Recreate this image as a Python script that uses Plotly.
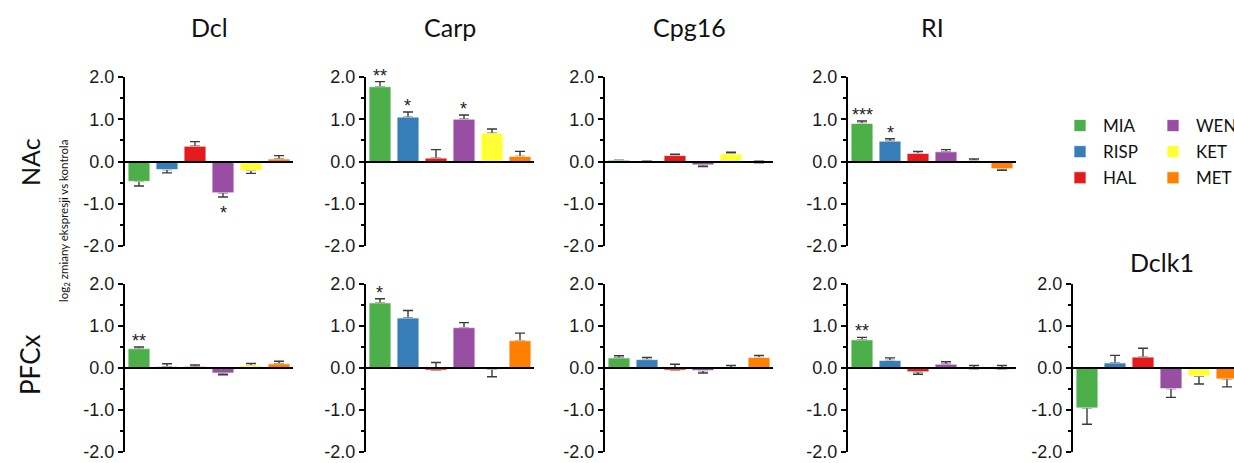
import plotly.graph_objects as go

W, H = 1234, 463

drugs = ["MIA", "RISP", "HAL", "WEN", "KET", "MET"]
colors = ["#4daf4a", "#377eb8", "#e41a1c", "#984ea3", "#ffff33", "#ff7f00"]
tick_vals = [-2, -1, 0, 1, 2]
tick_text = ["-2.0", "-1.0", "0.0", "1.0", "2.0"]
row_labels = ["NAc", "PFCx"]
y_title = "log<sub>2</sub> zmiany ekspresji vs kontrola"

# values (log2 fold change); error: signed, + = drawn upward, - = drawn downward
nac_dcl = [-0.47, -0.19, 0.36, -0.74, -0.21, 0.06]
nac_dcl_err = [-0.11, -0.08, 0.11, -0.10, -0.07, 0.08]
nac_dcl_sig = ["", "", "", "*", "", ""]

nac_carp = [1.77, 1.05, 0.08, 1.00, 0.67, 0.12]
nac_carp_err = [0.12, 0.12, 0.20, 0.10, 0.10, 0.12]
nac_carp_sig = ["**", "*", "", "*", "", ""]

nac_cpg16 = [0.03, -0.02, 0.14, -0.08, 0.18, -0.03]
nac_cpg16_err = [-0.05, 0.03, 0.03, -0.04, 0.04, 0.04]
nac_cpg16_sig = ["", "", "", "", "", ""]

nac_ri = [0.90, 0.48, 0.19, 0.23, 0.02, -0.17]
nac_ri_err = [0.06, 0.06, 0.05, 0.05, 0.04, -0.04]
nac_ri_sig = ["***", "*", "", "", "", ""]

pfc_dcl = [0.46, 0.03, 0.03, -0.12, 0.06, 0.10]
pfc_dcl_err = [0.04, 0.07, 0.04, -0.04, 0.05, 0.06]
pfc_dcl_sig = ["**", "", "", "", "", ""]

pfc_carp = [1.55, 1.19, -0.05, 0.96, -0.03, 0.65]
pfc_carp_err = [0.10, 0.18, 0.18, 0.12, -0.18, 0.18]
pfc_carp_sig = ["*", "", "", "", "", ""]

pfc_cpg16 = [0.24, 0.20, -0.05, -0.06, 0.0, 0.25]
pfc_cpg16_err = [0.05, 0.05, 0.14, -0.06, 0.06, 0.05]
pfc_cpg16_sig = ["", "", "", "", "", ""]

pfc_ri = [0.67, 0.18, -0.09, 0.09, -0.03, -0.03]
pfc_ri_err = [0.06, 0.06, -0.06, 0.06, 0.09, 0.09]
pfc_ri_sig = ["**", "", "", "", "", ""]

pfc_dclk1 = [-0.95, 0.12, 0.26, -0.49, -0.19, -0.26]
pfc_dclk1_err = [-0.39, 0.18, 0.21, -0.21, -0.19, -0.19]
pfc_dclk1_sig = ["", "", "", "", "", ""]

panels = [
    # (row, col, gene title, values, errors, significance)
    (0, 0, "Dcl", nac_dcl, nac_dcl_err, nac_dcl_sig),
    (0, 1, "Carp", nac_carp, nac_carp_err, nac_carp_sig),
    (0, 2, "Cpg16", nac_cpg16, nac_cpg16_err, nac_cpg16_sig),
    (0, 3, "RI", nac_ri, nac_ri_err, nac_ri_sig),
    (1, 0, None, pfc_dcl, pfc_dcl_err, pfc_dcl_sig),
    (1, 1, None, pfc_carp, pfc_carp_err, pfc_carp_sig),
    (1, 2, None, pfc_cpg16, pfc_cpg16_err, pfc_cpg16_sig),
    (1, 3, None, pfc_ri, pfc_ri_err, pfc_ri_sig),
    (1, 4, "Dclk1", pfc_dclk1, pfc_dclk1_err, pfc_dclk1_sig),
]

# layout geometry (pixels)
col_left = [125, 366, 605, 848, 1073]
panel_w = 168
row_top = [77, 284]
row_bot = [246, 452]
slot_px = 28.0

def fx(px):
    return px / W

def fy(py):
    return 1 - py / H

TICKFONT = dict(family="Liberation Sans, Arial", size=18, color="#1a1a1a")
TITLEFONT = dict(family="Lato, Open Sans", size=25, color="#111")

fig = go.Figure()
layout = dict(
    template="none",
    width=W, height=H, margin=dict(l=0, r=0, t=0, b=0, pad=0, autoexpand=False),
    paper_bgcolor="white", plot_bgcolor="white",
    barmode="overlay", showlegend=True,
)
annotations = []

for k, (r, c, gene, vals, errs, sig) in enumerate(panels, start=1):
    xs = "" if k == 1 else str(k)
    x0 = col_left[c]
    x1 = min(x0 + panel_w, W)
    xrange_end = -0.5 + (x1 - x0) / slot_px
    ydom = [fy(row_bot[r]), fy(row_top[r])]
    layout["xaxis" + xs] = dict(
        domain=[fx(x0), fx(x1)], range=[-0.5, xrange_end],
        anchor="free", position=(ydom[0] + ydom[1]) / 2,
        showline=True, linecolor="black", linewidth=2,
        showticklabels=False, ticks="", showgrid=False, zeroline=False,
        fixedrange=True, automargin=False,
    )
    layout["yaxis" + xs] = dict(
        domain=ydom, range=[-2, 2], anchor="x" + xs,
        showline=True, linecolor="black", linewidth=2,
        tickvals=tick_vals, ticktext=tick_text, ticks="outside",
        ticklen=5, tickwidth=2, tickcolor="black", tickfont=TICKFONT,
        minor=dict(dtick=0.5, ticks="outside", ticklen=3, tickwidth=1.5, tickcolor="black"),
        showgrid=False, zeroline=False, automargin=False,
    )
    for i, d in enumerate(drugs):
        e = errs[i]
        show = (k == 1)
        leg = "legend" if i < 3 else "legend2"
        common = dict(
            x=[i], y=[vals[i]], width=0.78, xaxis="x" + xs, yaxis="y" + xs,
            marker=dict(color=colors[i], line=dict(color="rgba(255,255,255,0.7)", width=1)),
            name=d, legendgroup=d, hoverinfo="skip",
        )
        fig.add_trace(go.Bar(
            **common, showlegend=False,
            error_y=dict(type="data", symmetric=False,
                         array=[max(e, 0)], arrayminus=[max(-e, 0)],
                         color="#3a3a3a", thickness=1.4, width=5),
        ))
        fig.add_trace(go.Bar(**common, showlegend=show, legend=leg))
        if sig[i]:
            tip = vals[i] + e
            annotations.append(dict(
                x=i, y=tip, xref="x" + xs, yref="y" + xs, text=sig[i],
                showarrow=False, xanchor="center", yanchor="bottom" if e > 0 else "top",
                yshift=-6 if e > 0 else -4,
                font=dict(family="Liberation Sans, Arial", size=18, color="#222"),
            ))
    if gene:
        cx = x0 + panel_w / 2
        cy = 27 if r == 0 else 262
        if gene == "Dclk1":
            cx = 1162
        annotations.append(dict(
            x=fx(cx), y=fy(cy), xref="paper", yref="paper", text=gene,
            showarrow=False, xanchor="center", yanchor="middle", font=TITLEFONT,
        ))

annotations.append(dict(x=fx(30), y=fy(162), xref="paper", yref="paper", text=row_labels[0],
                        textangle=-90, showarrow=False, xanchor="center", yanchor="middle",
                        font=dict(family="Lato, Open Sans", size=25, color="#111")))
annotations.append(dict(x=fx(30), y=fy(365), xref="paper", yref="paper", text=row_labels[1],
                        textangle=-90, showarrow=False, xanchor="center", yanchor="middle",
                        font=dict(family="Lato, Open Sans", size=26, color="#111")))
annotations.append(dict(x=fx(64), y=fy(221), xref="paper", yref="paper", text=y_title,
                        textangle=-90, showarrow=False, xanchor="center", yanchor="middle",
                        font=dict(family="Lato, Open Sans", size=11.5, color="#111")))

legfont = dict(family="Lato, Open Sans", size=17, color="#111")
layout["legend"] = dict(x=fx(1057), y=fy(108), xanchor="left", yanchor="top",
                        font=legfont, bgcolor="rgba(0,0,0,0)", tracegroupgap=1, itemwidth=36)
layout["legend2"] = dict(x=fx(1150), y=fy(108), xanchor="left", yanchor="top",
                         font=legfont, bgcolor="rgba(0,0,0,0)", tracegroupgap=1, itemwidth=36)
layout["annotations"] = annotations
fig.update_layout(**layout)

fig.write_html("out.html")
